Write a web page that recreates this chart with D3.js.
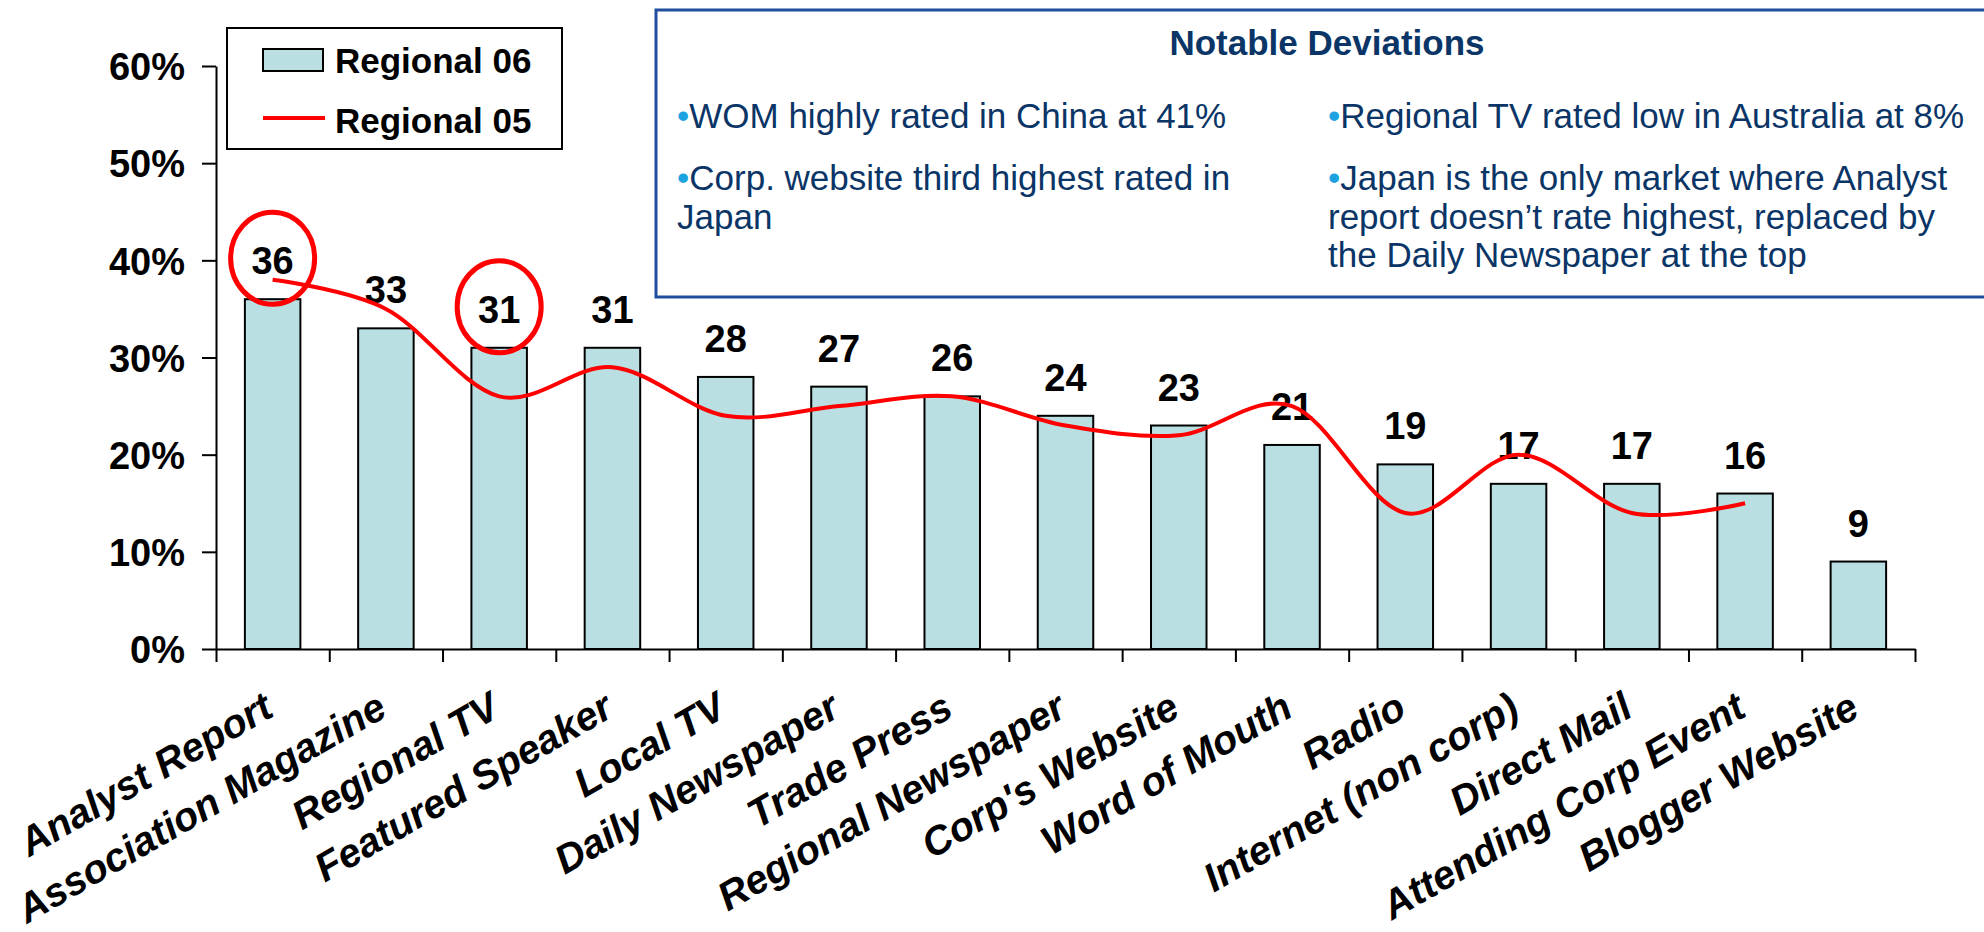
<!DOCTYPE html>
<html>
<head>
<meta charset="utf-8">
<style>
    body { margin: 0; background: #fff; }
    svg { display: block; font-family: "Liberation Sans", Arial, sans-serif; }
    .y .tick text { font-size: 38px; font-weight: bold; fill: #000; }
    .axis path, .axis line { stroke: #000; stroke-width: 2; }
    .cat { font-size: 40px; font-weight: bold; font-style: italic; fill: #000; }
    .val { font-size: 38px; font-weight: bold; fill: #000; }
    .leg { font-size: 35px; font-weight: bold; fill: #000; }
    .note { font-size: 35px; fill: #0a3566; }
</style>
</head>
<body>
<svg width="1984" height="932"></svg>

<script src="https://d3js.org/d3.v7.min.js"></script>
<script>
    // data
    let categories = ["Analyst Report", "Association Magazine", "Regional TV", "Featured Speaker",
        "Local TV", "Daily Newspaper", "Trade Press", "Regional Newspaper", "Corp's Website",
        "Word of Mouth", "Radio", "Internet (non corp)", "Direct Mail", "Attending Corp Event",
        "Blogger Website"]
    let regional06 = [36, 33, 31, 31, 28, 27, 26, 24, 23, 21, 19, 17, 17, 16, 9]
    let regional05 = [38, 35, 26, 29, 24, 25, 26, 23, 22, 25, 14, 20, 14, 15, null]
    let yTicks = [0, 0.1, 0.2, 0.3, 0.4, 0.5, 0.6]
    let circled = ["Analyst Report", "Regional TV"]

    let seriesNames = ["Regional 06", "Regional 05"]
    let notesTitle = "Notable Deviations"
    let notesLeft = [["WOM highly rated in China at 41%"],
        ["Corp. website third highest rated in", "Japan"]]
    let notesRight = [["Regional TV rated low in Australia at 8%"],
        ["Japan is the only market where Analyst", "report doesn\u2019t rate highest, replaced by", "the Daily Newspaper at the top"]]

    let barColor = "#b9dfe2"
    let lineColor = "#ff0000"

    let svg = d3.select("svg")
    let margin = { top: 63, right: 69, bottom: 283, left: 216 }
    let width = 1984, height = 932

    let x = d3.scaleBand()
        .domain(categories)
        .range([margin.left, width - margin.right])
        .padding(0)

    let xIdx = d3.scaleLinear()
        .domain([0, categories.length])
        .range([margin.left, width - margin.right])

    let y = d3.scaleLinear()
        .domain([0, 0.6])
        .range([height - margin.bottom, margin.top + 3])

    // y axis
    svg.append("g")
        .attr("class", "y axis")
        .attr("transform", `translate(${margin.left},0)`)
        .call(d3.axisLeft(y).tickValues(yTicks).tickSize(14).tickSizeOuter(0)
            .tickPadding(17).tickFormat(d3.format(".0%")))
        .call(g => g.selectAll(".tick text").attr("dy", "0.36em"))

    // x axis, ticks between categories
    svg.append("g")
        .attr("class", "x axis")
        .attr("transform", `translate(0,${y(0)})`)
        .call(d3.axisBottom(xIdx).tickValues(d3.range(categories.length + 1))
            .tickSize(13).tickSizeOuter(0).tickFormat(""))

    // bars
    let barW = x.bandwidth() * 0.49
    svg.append("g")
        .selectAll("rect")
        .data(regional06)
        .join("rect")
        .attr("x", (d, i) => x(categories[i]) + (x.bandwidth() - barW) / 2)
        .attr("y", d => y(d / 100))
        .attr("width", barW)
        .attr("height", d => y(0) - y(d / 100))
        .attr("fill", barColor)
        .attr("stroke", "#000")
        .attr("stroke-width", 2)

    // value labels
    svg.append("g")
        .selectAll("text")
        .data(regional06)
        .join("text")
        .attr("class", "val")
        .attr("x", (d, i) => x(categories[i]) + x.bandwidth() / 2)
        .attr("y", d => y(d / 100) - 25)
        .attr("text-anchor", "middle")
        .text(d => d)

    // regional 05 line (smoothed, like excel)
    let pts = regional05.map((v, i) => ({ c: categories[i], v: v })).filter(d => d.v != null)
    let line = d3.line()
        .x(d => x(d.c) + x.bandwidth() / 2)
        .y(d => y(d.v / 100))
        .curve(d3.curveCardinal.tension(0))
    svg.append("path")
        .datum(pts)
        .attr("d", line)
        .attr("fill", "none")
        .attr("stroke", lineColor)
        .attr("stroke-width", 4)

    // red circles around labels
    svg.append("g")
        .selectAll("ellipse")
        .data(circled)
        .join("ellipse")
        .attr("cx", d => x(d) + x.bandwidth() / 2)
        .attr("cy", d => y(regional06[categories.indexOf(d)] / 100) - 41)
        .attr("rx", 42)
        .attr("ry", 46)
        .attr("fill", "none")
        .attr("stroke", lineColor)
        .attr("stroke-width", 5)

    // category labels
    svg.append("g")
        .selectAll("text")
        .data(categories)
        .join("text")
        .attr("class", "cat")
        .attr("text-anchor", "end")
        .attr("transform", d => `translate(${x(d) + x.bandwidth() / 2 + 3},${y(0) + 66}) rotate(-30)`)
        .text(d => d)

    // legend
    let leg = svg.append("g").attr("transform", "translate(227,28)")
    leg.append("rect").attr("width", 335).attr("height", 121)
        .attr("fill", "#fff").attr("stroke", "#000").attr("stroke-width", 2)
    leg.append("rect").attr("x", 36).attr("y", 21).attr("width", 60).attr("height", 22)
        .attr("fill", barColor).attr("stroke", "#000").attr("stroke-width", 2)
    leg.append("line").attr("x1", 36).attr("x2", 98).attr("y1", 90).attr("y2", 90)
        .attr("stroke", lineColor).attr("stroke-width", 4)
    leg.selectAll(".leg")
        .data(seriesNames)
        .join("text")
        .attr("class", "leg")
        .attr("x", 108)
        .attr("y", (d, i) => 45 + i * 60)
        .text(d => d)

    // notes box
    let notes = svg.append("g").attr("transform", "translate(656,10)")
    notes.append("rect").attr("width", 1400).attr("height", 287)
        .attr("fill", "#fff").attr("stroke", "#1f4f9e").attr("stroke-width", 3)
    notes.append("text")
        .attr("class", "note")
        .attr("x", 671).attr("y", 45)
        .attr("text-anchor", "middle")
        .style("font-weight", "bold")
        .text(notesTitle)

    function bullets(items, x0) {
        items.forEach((lines, k) => {
            lines.forEach((ln, j) => {
                let baseY = 118 + k * 62 + j * 38.5
                let t = notes.append("text").attr("class", "note").attr("x", x0).attr("y", baseY)
                if (j == 0) t.append("tspan").attr("fill", "#1aa3e0").text("\u2022")
                t.append("tspan").text(ln)
            })
        })
    }
    bullets(notesLeft, 21)
    bullets(notesRight, 672)
</script>
</body>
</html>
